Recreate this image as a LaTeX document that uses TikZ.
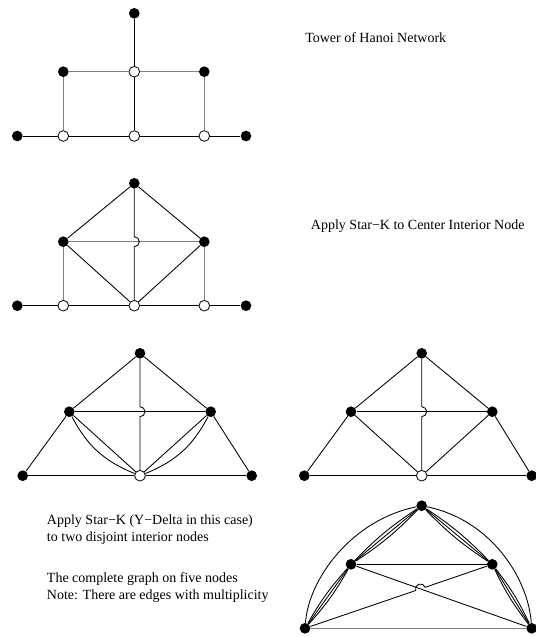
\documentclass[tikz,border=0pt]{standalone}
\usepackage{fontspec}
\setmainfont{Liberation Serif}
\usetikzlibrary{calc}

\begin{document}
\begin{tikzpicture}[x=0.75pt,y=0.75pt,
    bdot/.style={circle,fill=black,inner sep=0pt,minimum size=8pt},
    wdot/.style={circle,draw=black,fill=white,line width=0.6pt,inner sep=0pt,minimum size=8pt},
    edge/.style={line width=0.65pt,black},
    gedge/.style={line width=0.65pt,black!50},
    caption/.style={anchor=base west,align=left,inner sep=0pt,font=\fontsize{10.5}{12.4}\selectfont}]
  \useasboundingbox (0,0) rectangle (536,-637);

  % Tower of Hanoi network
  \node[bdot] (t1) at (134.3,-13.3) {};
  \node[bdot] (a1) at (63.3,-71.7) {};
  \node[wdot] (c1) at (134.3,-71.7) {};
  \node[bdot] (d1) at (204.3,-71.7) {};
  % bottom rows of the first two graphs
  \foreach \g/\yy in {1/-136,2/-305.7}{
    \node[bdot] (l\g) at (17.3,\yy) {};
    \node[wdot] (p\g) at (63.3,\yy) {};
    \node[wdot] (q\g) at (134.3,\yy) {};
    \node[wdot] (r\g) at (204.3,\yy) {};
    \node[bdot] (s\g) at (246,\yy) {};
    \draw[edge] (l\g) -- (p\g) -- (q\g) -- (r\g) -- (s\g);
  }
  \draw[edge] (t1) -- (c1) -- (q1);
  \draw[gedge] (a1) -- (c1) -- (d1);
  \draw[gedge] (a1) -- (p1);
  \draw[gedge] (d1) -- (r1);

  % Star-K on the center node
  \node[bdot] (t2) at (134.3,-183.3) {};
  \node[bdot] (a2) at (63.3,-241.7) {};
  \node[bdot] (d2) at (204.3,-241.7) {};
  \draw[edge] (a2) -- (t2) -- (d2);
  \draw[edge] (a2) -- (q2) -- (d2);
  \draw[gedge] (a2) -- (d2);
  \draw[gedge] (a2) -- (p2);
  \draw[gedge] (d2) -- (r2);
  \draw[edge] (t2) -- ($(q2.center |- a2.center)+(0,5)$)
    arc[start angle=90,end angle=-90,radius=5] -- (q2);

  % Y-Delta, with multiplicity
  \node[bdot] (t3) at (140,-353.3) {};
  \node[bdot] (a3) at (69.3,-411.7) {};
  \node[bdot] (d3) at (210.7,-411.7) {};
  \node[bdot] (l3) at (22.7,-475.7) {};
  \node[wdot] (w3) at (140,-475.7) {};
  \node[bdot] (s3) at (251.7,-475.7) {};
  \draw[edge] (l3) -- (a3) -- (t3) -- (d3) -- (s3);
  \draw[edge] (a3) -- (d3);
  \draw[edge] (l3) -- (w3) -- (s3);
  \draw[edge] (a3) -- (w3) -- (d3);
  \draw[edge] (a3) to[bend right=20] (w3);
  \draw[edge] (d3) to[bend left=20] (w3);
  \draw[edge] (t3) -- ($(w3.center |- a3.center)+(0,5)$)
    arc[start angle=90,end angle=-90,radius=5] -- (w3);

  % Y-Delta, simple edges
  \node[bdot] (t4) at (421.7,-353.3) {};
  \node[bdot] (a4) at (351,-411.7) {};
  \node[bdot] (d4) at (492.3,-411.7) {};
  \node[bdot] (l4) at (304.3,-475.7) {};
  \node[wdot] (w4) at (421.7,-475.7) {};
  \node[bdot] (s4) at (531.7,-475.7) {};
  \draw[edge] (l4) -- (a4) -- (t4) -- (d4) -- (s4);
  \draw[edge] (a4) -- (d4);
  \draw[edge] (l4) -- (w4) -- (s4);
  \draw[edge] (a4) -- (w4) -- (d4);
  \draw[edge] (t4) -- ($(w4.center |- a4.center)+(0,5)$)
    arc[start angle=90,end angle=-90,radius=5] -- (w4);

  % complete graph on five nodes
  \node[bdot] (t5) at (421.7,-505.7) {};
  \node[bdot] (a5) at (351,-564.3) {};
  \node[bdot] (d5) at (492.3,-564.3) {};
  \node[bdot] (l5) at (305,-628.3) {};
  \node[bdot] (s5) at (531.7,-628.3) {};
  \foreach \u/\v in {t5/a5,t5/d5,a5/l5,d5/s5}{
    \draw[edge] (\u) -- (\v);
    \draw[edge] (\u) to[bend left=6] (\v);
    \draw[edge] (\u) to[bend right=6] (\v);
  }
  \draw[edge] (t5) .. controls (352,-520) and (309,-578) .. (l5);
  \draw[edge] (t5) .. controls (491,-520) and (528,-578) .. (s5);
  \draw[edge] (a5) -- (d5);
  \draw[edge] (a5) -- (s5);
  \draw[gedge,line width=0.9pt] (l5) -- (s5);
  \coordinate (x5) at (intersection of a5.center--s5.center and d5.center--l5.center);
  \draw[edge] (d5) -- ($(x5)+(18.86:5)$)
    arc[start angle=18.86,end angle=198.86,radius=5] -- (l5);

  % captions
  \node[caption] (cap1) at (305,-42.5) {Tower of Hanoi Network};
  \node[caption] (cap2) at (310.7,-229) {Apply Star−K to Center Interior Node};
  \node[caption] (cap3) at (46.7,-541) {Apply Star−K (Y−Delta in this case)\\to two disjoint interior nodes};
  \node[caption] (cap4) at (46.7,-599.3) {The complete graph on five nodes\\Note: There are edges with multiplicity};
\end{tikzpicture}
\end{document}
